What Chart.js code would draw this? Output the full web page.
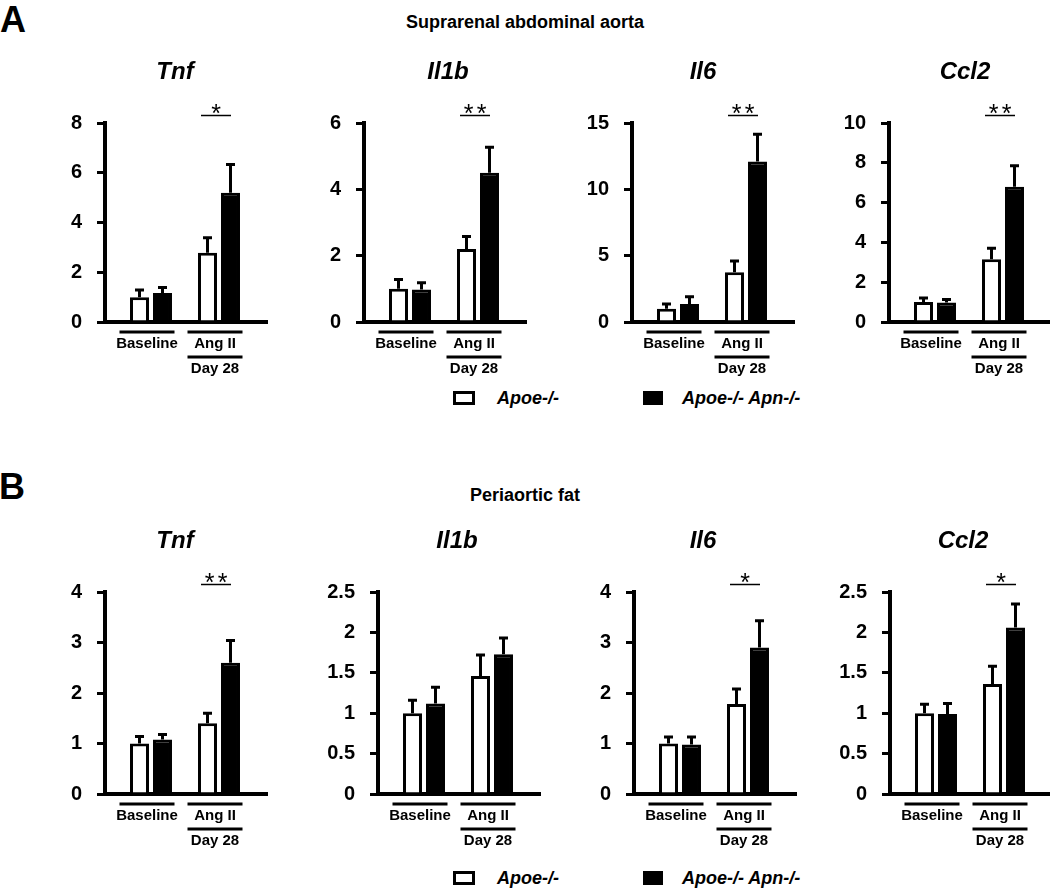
<!DOCTYPE html>
<html>
<head>
<meta charset="utf-8">
<script src="https://cdn.jsdelivr.net/npm/chart.js@4.4.0/dist/chart.umd.min.js"></script>
<style>
  body { margin: 0; background: #fff; font-family: Arial, "Liberation Sans", sans-serif; }
  #page { position: relative; width: 1050px; height: 888px; overflow: hidden; background: #fff; }
  .txt { position: absolute; white-space: nowrap; color: #000; font-weight: bold; }
  .box { position: absolute; box-sizing: border-box; border: 3px solid #000; }
  canvas { position: absolute; }
</style>
</head>
<body>
<div id="page">
  <div class="txt" style="left:0;top:2px;font-size:36px;line-height:36px;">A</div>
  <div class="txt" style="left:0;width:1050px;text-align:center;top:13px;font-size:18px;line-height:18px;">Suprarenal abdominal aorta</div>
  <div class="txt" style="left:-1px;top:469px;font-size:36px;line-height:36px;">B</div>
  <div class="txt" style="left:0;width:1050px;text-align:center;top:486px;font-size:18px;line-height:18px;">Periaortic fat</div>
</div>
<script>
const FONT = 'Arial, "Liberation Sans", sans-serif';

const genes = ['Tnf', 'Il1b', 'Il6', 'Ccl2'];
const groups = ['Baseline', 'Ang II'];
const groupPos = [1, 2];
const seriesNames = ['Apoe-/-', 'Apoe-/- Apn-/-'];

// A: suprarenal abdominal aorta  [Baseline, Ang II] per gene
const aortaApoe    = [[1.0, 2.78], [1.0, 2.2], [1.0, 3.75], [1.0, 3.15]];
const aortaApoeErr = [[0.29, 0.61], [0.28, 0.38], [0.35, 0.85], [0.2, 0.55]];
const aortaDko     = [[1.17, 5.2], [0.98, 4.5], [1.35, 12.1], [0.98, 6.8]];
const aortaDkoErr  = [[0.22, 1.13], [0.2, 0.77], [0.55, 2.05], [0.15, 1.05]];
const aortaMax  = [8, 6, 15, 10];
const aortaStep = [2, 2, 5, 2];
const aortaSig  = ['*', '**', '**', '**'];

// B: periaortic fat
const fatApoe    = [[1.0, 1.4], [1.0, 1.46], [1.0, 1.78], [1.0, 1.36]];
const fatApoeErr = [[0.14, 0.2], [0.16, 0.26], [0.13, 0.3], [0.11, 0.22]];
const fatDko     = [[1.08, 2.6], [1.12, 1.73], [0.98, 2.9], [0.99, 2.06]];
const fatDkoErr  = [[0.1, 0.44], [0.2, 0.2], [0.15, 0.53], [0.13, 0.29]];
const fatMax  = [4, 2.5, 4, 2.5];
const fatStep = [1, 0.5, 1, 0.5];
const fatSig  = ['**', '', '*', '*'];

// layout (px)
const YW = 75, PLOT_W = 162, PAD_R = 8, XH = 60;
const panels = [
  { top: 50, axisTop: 123, zero: 322, titleY: 72, legendY: 398,
    axisX: [105, 364, 632, 889], titleX: [175, 448, 703, 965],
    apoe: aortaApoe, apoeErr: aortaApoeErr, dko: aortaDko, dkoErr: aortaDkoErr,
    max: aortaMax, step: aortaStep, sig: aortaSig },
  { top: 520, axisTop: 592, zero: 794, titleY: 541, legendY: 878,
    axisX: [105, 378, 634, 890], titleX: [175, 457, 703, 963],
    apoe: fatApoe, apoeErr: fatApoeErr, dko: fatDko, dkoErr: fatDkoErr,
    max: fatMax, step: fatStep, sig: fatSig }
];

const decor = {
  id: 'decor',
  afterDatasetsDraw(chart, args, o) {
    const ctx = chart.ctx, y = chart.scales.y;
    ctx.save();
    ctx.strokeStyle = '#000';
    ctx.lineWidth = 3;
    chart.data.datasets.forEach((ds, d) => {
      chart.getDatasetMeta(d).data.forEach((bar, i) => {
        const top = y.getPixelForValue(ds.data[i].y + ds.err[i]);
        ctx.beginPath();
        ctx.moveTo(bar.x, bar.y);
        ctx.lineTo(bar.x, top);
        ctx.moveTo(bar.x - 4.5, top);
        ctx.lineTo(bar.x + 4.5, top);
        ctx.stroke();
      });
    });
    ctx.restore();
  },
  afterDraw(chart, args, o) {
    const ctx = chart.ctx, x = chart.scales.x, a = chart.chartArea;
    ctx.save();
    ctx.fillStyle = '#000';
    ctx.strokeStyle = '#000';
    ctx.textAlign = 'center';

    ctx.font = 'italic bold 24px ' + FONT;
    ctx.textBaseline = 'middle';
    ctx.fillText(o.title, o.titleX, o.titleY);

    if (o.sig) {
      const cx = x.getPixelForValue(groupPos[1]);
      const ly = a.top - 7.5;
      ctx.lineWidth = 1.5;
      ctx.beginPath();
      ctx.moveTo(cx - 18, ly);
      ctx.lineTo(cx + 12, ly);
      ctx.stroke();
      ctx.font = '25px ' + FONT;
      ctx.textBaseline = 'alphabetic';
      const n = o.sig.length, gap = 13;
      for (let k = 0; k < n; k++) {
        ctx.fillText('*', cx - 3 + (k - (n - 1) / 2) * gap, ly + 6);
      }
    }

    ctx.font = 'bold 15px ' + FONT;
    ctx.textBaseline = 'middle';
    ctx.lineWidth = 3;
    groups.forEach((g, i) => {
      const cx = x.getPixelForValue(groupPos[i]) - 4;
      ctx.beginPath();
      ctx.moveTo(cx - 27.5, a.bottom + 10);
      ctx.lineTo(cx + 27.5, a.bottom + 10);
      ctx.stroke();
      ctx.fillText(g, cx, a.bottom + 22);
    });
    const cx2 = x.getPixelForValue(groupPos[1]) - 4;
    ctx.beginPath();
    ctx.moveTo(cx2 - 27.5, a.bottom + 35);
    ctx.lineTo(cx2 + 27.5, a.bottom + 35);
    ctx.stroke();
    ctx.fillText('Day 28', cx2, a.bottom + 47);
    ctx.restore();
  }
};

const page = document.getElementById('page');

panels.forEach(p => {
  genes.forEach((gene, g) => {
    const left = p.axisX[g] - YW;
    const w = YW + PLOT_W + PAD_R;
    const h = p.zero - p.top + XH;
    const cv = document.createElement('canvas');
    cv.width = w; cv.height = h;
    cv.style.left = left + 'px';
    cv.style.top = p.top + 'px';
    cv.style.width = w + 'px';
    cv.style.height = h + 'px';
    page.appendChild(cv);

    new Chart(cv, {
      type: 'bar',
      data: {
        datasets: [
          { label: seriesNames[0], data: groupPos.map((x, i) => ({ x, y: p.apoe[g][i] })), err: p.apoeErr[g],
            backgroundColor: '#fff', borderColor: '#000', borderWidth: 3 },
          { label: seriesNames[1], data: groupPos.map((x, i) => ({ x, y: p.dko[g][i] })), err: p.dkoErr[g],
            backgroundColor: '#000', borderColor: '#000', borderWidth: 3 }
        ]
      },
      options: {
        responsive: false,
        animation: false,
        events: [],
        categoryPercentage: 46 / 68,
        barPercentage: 0.826,
        layout: { padding: { top: p.axisTop - p.top, right: PAD_R, left: 0, bottom: 0 } },
        plugins: {
          legend: { display: false },
          tooltip: { enabled: false },
          decor: { title: gene, titleX: p.titleX[g] - left, titleY: p.titleY - p.top, sig: p.sig[g] }
        },
        scales: {
          x: {
            type: 'linear', offset: false, z: 1,
            min: 1 - 46 / 68, max: 1 + (PLOT_W - 46) / 68,
            ticks: { display: false },
            grid: { display: false, offset: false },
            border: { display: true, color: '#000', width: 4 },
            afterBuildTicks(s) { s.ticks = groupPos.map(v => ({ value: v })); },
            afterFit(s) { s.height = XH; }
          },
          y: {
            min: 0, max: p.max[g],
            ticks: { stepSize: p.step[g], color: '#000', padding: 15,
                     font: { family: FONT, size: 20, weight: 'bold' },
                     callback: v => String(+v.toFixed(2)) },
            grid: { display: true, drawOnChartArea: false, drawTicks: true, tickLength: 8,
                    color: '#000', lineWidth: 3 },
            border: { display: true, color: '#000', width: 4 },
            afterFit(s) { s.width = YW; }
          }
        }
      },
      plugins: [decor]
    });
  });

  // legend
  const ly = p.legendY;
  const items = [
    { boxLeft: 453, boxW: 22, bg: '#fff', textLeft: 497, text: seriesNames[0] },
    { boxLeft: 643, boxW: 20, bg: '#000', textLeft: 682, text: seriesNames[1] }
  ];
  items.forEach(it => {
    const b = document.createElement('div');
    b.className = 'box';
    b.style.cssText = `left:${it.boxLeft}px;top:${ly - 7}px;width:${it.boxW}px;height:14px;background:${it.bg};`;
    page.appendChild(b);
    const t = document.createElement('div');
    t.className = 'txt';
    t.textContent = it.text;
    t.style.cssText = `left:${it.textLeft}px;top:${ly - 9}px;font-size:18px;line-height:18px;font-style:italic;`;
    page.appendChild(t);
  });
});
</script>
</body>
</html>
